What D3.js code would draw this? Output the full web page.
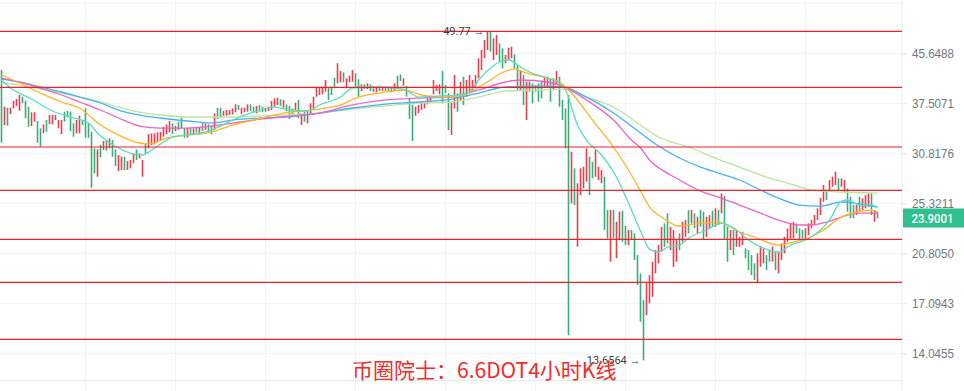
<!DOCTYPE html>
<html>
<head>
<meta charset="utf-8">
<script src="https://cdn.jsdelivr.net/npm/d3@7"></script>
<style>
    html, body { margin: 0; padding: 0; background: #ffffff; }
    svg { display: block; }
</style>
</head>
<body>
<div id="chart"></div>
<script>
// DOT 4h candles (high / low per bar, R = up, G = down)
const highs = [
    42.75, 37.01, 36.86, 36.86, 37.89, 38.14, 38.75, 38.49, 37.89, 37.01,
    36.20, 36.20, 34.99, 33.99, 34.53, 35.12, 35.82, 35.82, 35.82, 35.12,
    35.12, 36.29, 36.39, 36.29, 34.67, 35.12, 35.72, 35.12, 36.77, 34.67,
    33.54, 31.42, 31.30, 31.84, 32.34, 32.47, 32.68, 32.47, 31.30, 30.61,
    30.41, 30.41, 29.90, 30.02, 30.80, 31.30, 30.80, 30.02, 32.05, 33.24,
    33.33, 33.33, 33.46, 33.54, 34.21, 34.53, 34.99, 34.67, 34.35, 34.89,
    35.44, 33.99, 34.07, 34.07, 33.99, 34.21, 34.21, 34.67, 34.67, 34.53,
    34.35, 36.06, 36.86, 36.86, 36.39, 36.53, 36.53, 36.77, 37.35, 37.26,
    36.86, 36.86, 37.35, 37.35, 37.01, 37.11, 37.26, 37.01, 36.86, 37.01,
    37.85, 38.25, 38.34, 38.10, 38.00, 37.35, 37.15, 36.77, 37.59, 38.00,
    36.06, 36.29, 36.53, 37.50, 38.49, 39.87, 39.87, 40.03, 41.10, 39.87,
    40.03, 41.47, 43.89, 42.58, 42.36, 41.37, 41.80, 42.75, 42.20, 41.21,
    40.41, 40.41, 40.57, 40.41, 39.78, 40.03, 40.19, 40.03, 40.03, 40.03,
    40.03, 40.57, 41.80, 42.03, 41.37, 40.19, 38.34, 37.26, 37.01, 37.26,
    37.74, 37.74, 38.25, 38.64, 41.10, 40.30, 40.41, 42.58, 40.30, 39.01,
    37.55, 41.92, 39.01, 40.83, 41.64, 41.10, 41.92, 41.10, 41.92, 44.76,
    46.25, 48.10, 49.77, 49.69, 48.42, 49.05, 47.47, 46.55, 45.35, 46.66,
    46.85, 45.46, 43.60, 42.75, 41.92, 40.83, 40.83, 40.57, 40.30, 40.57,
    40.83, 41.47, 41.64, 41.37, 41.37, 42.58, 41.64, 38.00, 36.77, 38.75,
    31.01, 29.05, 27.39, 29.05, 29.23, 31.42, 30.41, 29.81, 31.22, 29.23,
    28.86, 28.11, 24.66, 24.66, 24.66, 23.55, 24.50, 24.59, 23.16, 22.80,
    22.80, 22.50, 20.66, 19.23, 17.31, 18.49, 19.10, 20.13, 21.07, 21.49,
    23.09, 23.40, 24.34, 23.09, 22.80, 21.92, 22.50, 23.55, 23.71, 24.66,
    24.66, 24.34, 24.02, 24.66, 24.50, 24.02, 24.18, 24.59, 24.82, 24.66,
    26.33, 26.06, 23.09, 22.80, 22.80, 22.80, 22.20, 22.64, 21.21, 21.07,
    20.66, 20.00, 20.80, 21.35, 21.21, 20.66, 21.07, 21.35, 20.93, 20.93,
    21.63, 22.20, 22.95, 23.40, 23.55, 23.40, 22.95, 22.80, 22.95, 23.40,
    23.71, 24.18, 24.82, 25.85, 27.21, 26.68, 27.75, 28.11, 28.66, 27.93,
    27.93, 27.75, 26.85, 25.98, 25.15, 25.15, 25.98, 25.82, 26.16, 26.33,
    26.33, 24.66, 24.50
];
const lows = [
    32.12, 34.44, 34.35, 35.96, 36.77, 37.11, 36.43, 37.50, 35.36, 34.21,
    34.30, 34.89, 32.12, 31.62, 33.33, 33.54, 34.57, 34.53, 35.12, 33.99,
    33.24, 34.89, 35.50, 33.64, 32.89, 33.33, 33.33, 34.44, 32.76, 32.76,
    26.92, 28.48, 28.11, 30.33, 31.22, 31.13, 31.42, 30.41, 29.32, 28.74,
    28.86, 28.86, 28.86, 29.05, 29.63, 30.02, 30.21, 28.11, 30.80, 31.42,
    31.84, 31.92, 32.18, 32.34, 32.89, 33.20, 33.46, 33.24, 33.64, 33.77,
    33.99, 32.76, 32.76, 33.20, 33.11, 33.46, 33.20, 33.64, 33.77, 33.54,
    33.20, 33.77, 35.26, 35.44, 35.72, 35.72, 35.82, 35.91, 36.20, 36.53,
    35.91, 36.20, 36.29, 36.39, 36.20, 36.06, 36.29, 36.20, 36.29, 36.39,
    36.53, 37.01, 37.26, 37.15, 36.86, 36.39, 35.26, 35.82, 36.29, 35.36,
    34.44, 34.89, 34.67, 36.06, 36.77, 38.49, 38.75, 38.85, 39.25, 38.00,
    38.75, 39.78, 40.57, 40.73, 40.73, 39.78, 40.73, 40.83, 40.03, 38.49,
    39.36, 39.67, 39.67, 39.36, 39.25, 39.16, 39.36, 39.36, 39.36, 39.36,
    39.16, 39.52, 39.78, 40.94, 40.19, 38.49, 35.26, 32.34, 35.72, 36.06,
    36.53, 36.77, 37.35, 37.74, 38.85, 39.36, 38.85, 37.50, 39.01, 33.77,
    33.11, 36.77, 36.29, 38.00, 37.26, 38.49, 39.25, 39.52, 40.03, 41.37,
    42.75, 44.76, 46.25, 45.94, 44.46, 45.35, 44.17, 43.03, 43.89, 44.46,
    44.76, 43.03, 39.52, 39.52, 37.26, 35.12, 39.25, 37.50, 39.25, 37.74,
    38.25, 40.03, 40.03, 37.74, 39.52, 40.30, 37.01, 35.12, 31.42, 15.09,
    25.32, 25.15, 21.35, 26.16, 26.85, 27.56, 26.16, 27.93, 28.11, 27.75,
    27.39, 22.80, 22.06, 20.13, 22.06, 20.40, 21.92, 21.77, 21.49, 21.49,
    21.92, 20.26, 18.37, 15.90, 13.6564, 16.32, 17.09, 17.54, 19.23, 20.00,
    20.93, 21.35, 21.63, 21.07, 19.73, 20.13, 21.07, 21.77, 22.20, 22.50,
    23.40, 22.95, 22.50, 23.09, 21.92, 22.20, 22.95, 23.09, 23.09, 23.25,
    24.34, 21.92, 20.13, 21.07, 20.66, 21.35, 21.35, 21.49, 20.40, 19.48,
    19.10, 18.73, 18.49, 19.73, 20.00, 19.48, 20.13, 20.13, 19.48, 19.23,
    20.26, 20.80, 21.77, 22.06, 22.06, 22.50, 21.92, 22.06, 21.92, 22.35,
    22.95, 23.25, 23.71, 24.18, 25.48, 25.65, 26.50, 27.02, 27.21, 26.68,
    27.02, 26.50, 24.50, 23.87, 23.87, 24.18, 24.50, 24.66, 24.82, 24.98,
    24.18, 23.55, 23.88
];
const dirs = [
    "GRGRRRRGGG", "RRGGRGRRRR", "RGGGGRRGGG", "GGRGRGRGGR", "RGRRRGRRGR",
    "RRRRRRRGRG", "GGRGRGRGRG", "GRGGRRRRRG", "RRRGGRGGRR", "RRRGRGGGRG",
    "RGRRRRRRRG", "GGRRGRRRGG", "RGRGRRGRGG", "RRGGRGGGRR", "RRRRRRRGGG",
    "RRGRGRRRRR", "RRRGRRGGRR", "RGGRGRRGGG", "GRRGRRGGGG", "RGRRRRGGRR",
    "RGGRGRRGGR", "GGGGGRRRRR", "RGGRRRGRRG", "RGRGGRRGRG", "RGGRGRRRGG",
    "GGRRRGGRGR", "RRRRRGGGRR", "RRRRRGRRRG", "RRGGGRGRRR", "GRG"
].join("").split("");

// moving averages, [candle index, value]
const maTeal = [[0,41.10],[3,39.83],[10,38.14],[17,36.39],[23,35.54],[29,34.71],[32,33.37],[39,31.46],[44,30.73],[47,30.61],[51,31.46],[57,32.85],[62,33.11],[70,33.77],[77,35.12],[84,36.24],[91,36.96],[96,36.53],[102,36.39],[106,37.26],[113,38.44],[117,39.83],[123,39.99],[134,39.67],[139,38.44],[146,38.60],[153,38.75],[156,39.21],[159,41.10],[163,43.08],[166,44.11],[169,44.46],[173,43.26],[176,42.41],[182,41.42],[186,40.62],[188,39.52],[192,34.44],[195,32.47],[200,30.61],[205,28.07],[209,25.35],[213,22.71],[216,21.15],[219,20.91],[222,21.32],[226,21.49],[229,22.09],[235,22.80],[240,23.43],[245,22.80],[249,21.92],[254,21.24],[259,20.91],[263,21.49],[268,21.92],[273,22.80],[276,23.71],[280,25.55],[282,25.65],[286,25.15],[290,25.15],[292,24.95]];
const maOrange = [[0,41.92],[6,40.62],[13,39.05],[20,37.70],[26,36.82],[33,34.44],[39,33.11],[46,32.09],[49,31.96],[55,32.72],[62,33.11],[70,33.50],[77,34.44],[84,35.12],[94,36.10],[103,36.53],[113,37.26],[119,38.44],[126,39.05],[134,39.52],[140,38.75],[146,38.44],[153,38.60],[159,39.99],[163,41.10],[166,42.08],[171,42.91],[175,42.25],[182,41.42],[186,40.78],[190,39.05],[197,35.12],[204,31.59],[209,28.86],[213,26.57],[216,24.95],[220,23.99],[226,23.16],[233,23.43],[239,23.52],[243,23.07],[246,22.62],[251,22.18],[256,21.66],[259,21.49],[264,21.75],[269,22.09],[274,22.80],[280,23.99],[285,24.47],[290,24.66],[292,24.47]];
const maPink = [[0,41.42],[6,40.78],[13,39.83],[20,38.75],[26,37.70],[33,36.53],[39,35.40],[46,34.30],[53,34.03],[62,34.03],[70,34.30],[77,34.71],[84,35.12],[93,35.54],[106,36.10],[117,37.26],[128,38.00],[139,38.29],[150,38.44],[159,39.52],[168,40.78],[173,41.10],[182,40.78],[187,40.14],[195,38.00],[204,35.12],[210,32.47],[213,31.46],[216,30.02],[223,28.30],[226,27.75],[233,26.57],[239,25.95],[246,25.15],[253,24.37],[259,23.71],[266,23.25],[270,23.25],[275,23.52],[280,23.99],[285,24.37],[292,24.37]];
const maBlue = [[0,41.26],[6,40.78],[13,39.99],[20,39.21],[26,38.44],[33,37.55],[39,36.53],[46,35.82],[53,35.40],[62,34.99],[70,34.71],[77,35.12],[86,35.40],[95,35.54],[106,36.10],[117,36.82],[128,37.40],[139,37.70],[150,38.14],[159,39.05],[168,39.99],[178,40.14],[187,39.99],[195,38.44],[204,36.10],[213,33.37],[219,31.71],[226,30.25],[233,29.20],[239,28.52],[246,27.75],[253,26.68],[259,25.85],[266,25.15],[273,25.05],[280,25.45],[286,25.25],[292,24.95]];
const maLime = [[0,40.62],[6,40.30],[13,39.67],[20,39.05],[26,38.44],[33,37.70],[39,36.96],[46,36.24],[53,35.82],[62,35.54],[70,35.54],[77,35.54],[86,35.68],[95,35.82],[106,36.10],[117,36.67],[128,37.11],[139,37.55],[150,37.70],[159,38.44],[168,39.36],[178,39.52],[187,39.67],[195,38.44],[204,36.96],[213,34.44],[219,32.85],[229,31.59],[238,30.25],[246,29.20],[255,28.07],[262,27.42],[270,26.68],[279,26.47],[292,26.36]];

// hand drawn support / resistance lines
const levels = [49.77, 39.94, 31.59, 26.65, 21.98, 18.56, 14.84];

// price axis (log scale), top grid line has no label
const gridValues = [55.5587, 45.6488, 37.5071, 30.8176, 25.3211, 20.8050, 17.0943, 14.0455];
const tickValues = [45.6488, 37.5071, 30.8176, 25.3211, 20.8050, 17.0943, 14.0455];
const timeGrid = [28, 58, 88, 118, 148, 178, 208, 238, 268];

const lastPrice = 23.9001;
const highMark = { i: 162, v: 49.77, label: "49.77" };
const lowMark = { i: 214, v: 13.6564, label: "13.6564" };
const title = "币圈院士：6.6DOT4小时K线";

const W = 964, H = 391;
const plotRight = 902, plotBottom = 380.7;
const upColor = "#e6404f", downColor = "#3aac79";

let svg = d3.select("#chart").append("svg")
    .attr("width", W)
    .attr("height", H)
    .style("font-family", "Roboto, 'Noto Sans', sans-serif");

let x = d3.scaleLinear()
    .domain([-0.5, highs.length - 0.5])
    .range([0, 879]);

let y = d3.scaleLog()
    .domain([14.0455, 45.6488])
    .range([353.3, 53.3]);

// grid
svg.selectAll(".hgrid")
    .data(gridValues)
    .enter()
    .append("line")
    .attr("x1", 0)
    .attr("x2", plotRight)
    .attr("y1", d => y(d))
    .attr("y2", d => y(d))
    .style("stroke", "#f0f3f7")
    .style("stroke-width", 1);

svg.selectAll(".vgrid")
    .data(timeGrid)
    .enter()
    .append("line")
    .attr("x1", d => x(d))
    .attr("x2", d => x(d))
    .attr("y1", 0)
    .attr("y2", H)
    .style("stroke", "#f0f3f7")
    .style("stroke-width", 1);

// frame: bottom time axis border and the price axis border
svg.append("line")
    .attr("x1", 0).attr("x2", plotRight)
    .attr("y1", plotBottom).attr("y2", plotBottom)
    .style("stroke", "#e3e6ea");

svg.append("line")
    .attr("x1", plotRight).attr("x2", plotRight)
    .attr("y1", 0).attr("y2", H)
    .style("stroke", "#e9ecf0");

// candles
let candles = highs.map((h, i) => ({ i: i, high: h, low: lows[i], up: dirs[i] === "R" }));

svg.selectAll(".candle")
    .data(candles)
    .enter()
    .append("rect")
    .attr("class", "candle")
    .attr("x", d => x(d.i) - 0.8)
    .attr("width", 1.6)
    .attr("y", d => y(d.high))
    .attr("height", d => Math.max(1, y(d.low) - y(d.high)))
    .style("fill", d => d.up ? upColor : downColor);

// moving averages
let maSeries = [
    { pts: maLime, color: "#bde3a0" },
    { pts: maBlue, color: "#46b2f0" },
    { pts: maPink, color: "#ef62c3" },
    { pts: maOrange, color: "#ffb526" },
    { pts: maTeal, color: "#5cdcbd" }
];

let maLine = d3.line()
    .x(d => x(d[0]))
    .y(d => y(d[1]))
    .curve(d3.curveMonotoneX);

svg.selectAll(".ma")
    .data(maSeries)
    .enter()
    .append("path")
    .attr("d", d => maLine(d.pts))
    .style("fill", "none")
    .style("stroke", d => d.color)
    .style("stroke-width", 1.3);

// red horizontal lines
svg.selectAll(".level")
    .data(levels)
    .enter()
    .append("line")
    .attr("x1", 0)
    .attr("x2", plotRight)
    .attr("y1", d => y(d))
    .attr("y2", d => y(d))
    .style("stroke", "#e8232b")
    .style("stroke-width", 1.2);

// price axis
let axis = d3.axisRight(y)
    .tickValues(tickValues)
    .tickFormat(d3.format(".4f"))
    .tickSize(5)
    .tickPadding(5);

let gAxis = svg.append("g")
    .attr("transform", "translate(" + plotRight + ",0)")
    .call(axis);

gAxis.select(".domain").remove();
gAxis.selectAll(".tick line").style("stroke", "#dfe3e8");
gAxis.selectAll(".tick text")
    .style("font-size", "13px")
    .style("fill", "#6e7684")
    .attr("textLength", 42)
    .attr("lengthAdjust", "spacingAndGlyphs");

// last price tag
svg.append("rect")
    .attr("x", plotRight + 1)
    .attr("y", y(lastPrice) - 9.5)
    .attr("width", W - plotRight - 1)
    .attr("height", 19)
    .style("fill", "#30bf8f");

svg.append("text")
    .attr("x", 911.5)
    .attr("y", y(lastPrice))
    .attr("dy", "0.35em")
    .attr("textLength", 42)
    .attr("lengthAdjust", "spacingAndGlyphs")
    .style("font-size", "13px")
    .style("font-weight", 500)
    .style("fill", "#ffffff")
    .text(d3.format(".4f")(lastPrice));

// high / low markers
[highMark, lowMark].forEach(function (m) {
    svg.append("text")
        .attr("x", x(m.i) - 3)
        .attr("y", y(m.v))
        .attr("dy", "0.35em")
        .attr("text-anchor", "end")
        .style("font-size", "11px")
        .style("fill", "#3d3d3d")
        .text(m.label + " →");
});

// title
svg.append("text")
    .attr("x", 352)
    .attr("y", 378)
    .style("font-family", "'Noto Sans CJK SC', sans-serif")
    .style("font-size", "21px")
    .style("fill", "#f22a2a")
    .text(title);
</script>
</body>
</html>
